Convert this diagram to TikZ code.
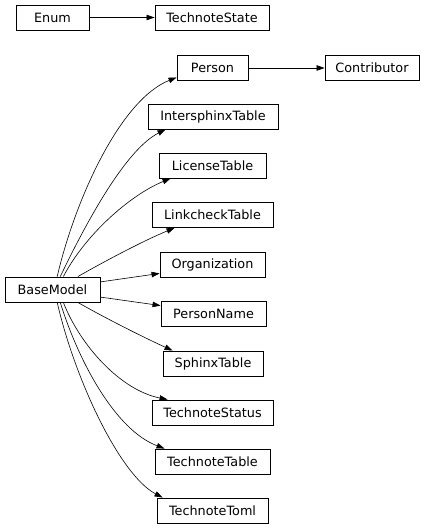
\documentclass[tikz,border=0pt]{standalone}
\usepackage{fontspec}
\setmainfont{DejaVu Sans}
\usetikzlibrary{arrows.meta}
\tikzset{
  cls/.style={draw=black, line width=0.9bp, minimum height=25bp, inner sep=0pt,
    font=\fontsize{12.8bp}{15bp}\selectfont, text=black, fill=white},
  edge/.style={draw=black, line width=0.6bp, -{Triangle[length=8bp,width=5.5bp]}}
}
\begin{document}
\begin{tikzpicture}[x=1bp, y=-1bp]
\useasboundingbox (0,0) rectangle (425,529);
\node[cls, minimum width=73bp]  (enum)    at (52.5,17.5)  {Enum};
\node[cls, minimum width=114bp] (tstate)  at (212,17.5)   {TechnoteState};
\node[cls, minimum width=71bp]  (person)  at (212.5,68)   {Person};
\node[cls, minimum width=94bp]  (contrib) at (372,68)     {Contributor};
\node[cls, minimum width=130bp] (inter)   at (213,116.5)  {IntersphinxTable};
\node[cls, minimum width=107bp] (lic)     at (212.5,165.5){LicenseTable};
\node[cls, minimum width=121bp] (link)    at (212.5,215)  {LinkcheckTable};
\node[cls, minimum width=105bp] (org)     at (212.5,264.5){Organization};
\node[cls, minimum width=95bp]  (base)    at (52.5,289.5) {BaseModel};
\node[cls, minimum width=105bp] (pn)      at (213.5,313.5){PersonName};
\node[cls, minimum width=100bp] (sph)     at (213,363.5)  {SphinxTable};
\node[cls, minimum width=121bp] (status)  at (212.5,412.5){TechnoteStatus};
\node[cls, minimum width=115bp] (ttable)  at (212.5,461.5){TechnoteTable};
\node[cls, minimum width=111bp] (toml)    at (212.5,510.5){TechnoteToml};

\draw[edge] (enum.east) -- (tstate.west);
\draw[edge] (person.east) -- (contrib.west);

\draw[edge] (base.70) .. controls (75,200) and (120,100) .. ([yshift=3.5bp]person.south west);
\draw[edge] (base.59) .. controls (85,225) and (125,150) .. ([xshift=18bp]inter.south west);
\draw[edge] (base.50) .. controls (85,235) and (130,195) .. ([xshift=12bp]lic.south west);
\draw[edge] (base.27) .. controls (105,261) and (145,240) .. ([xshift=23bp]link.south west);
\draw[edge] (base.9) -- ([yshift=4bp]org.south west);
\draw[edge] (base.-9) -- ([yshift=-5bp]pn.north west);
\draw[edge] (base.-27) .. controls (105,318) and (145,338) .. ([xshift=10bp]sph.north west);
\draw[edge] (base.-50) .. controls (80,345) and (120,390) .. ([xshift=16bp]status.north west);
\draw[edge] (base.-59) .. controls (78,360) and (115,430) .. ([xshift=10bp]ttable.north west);
\draw[edge] (base.-70) .. controls (75,380) and (120,475) .. ([xshift=6bp]toml.north west);
\end{tikzpicture}
\end{document}
